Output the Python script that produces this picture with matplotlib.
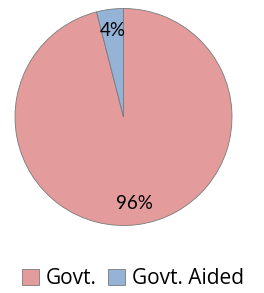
import matplotlib.pyplot as plt

labels = ["Govt.", "Govt. Aided"]
shares = [96, 4]
colors = ["#E39C9B", "#95B3D7"]

plt.rcParams['font.family'] = ['Lato', 'DejaVu Sans']

fig = plt.figure(figsize=(2.64, 2.93), dpi=100)
ax = fig.add_axes([15/264, 1 - 226/293, 217/264, 218/293])

wedges, texts, autotexts = ax.pie(
    shares, colors=colors, startangle=90, counterclock=False,
    autopct='%1.0f%%', pctdistance=0.8,
    wedgeprops=dict(edgecolor='#7a7a7a', linewidth=0.6),
    textprops=dict(fontsize=13.5, color='black'))
ax.set_xlim(-1.0, 1.0)
ax.set_ylim(-1.0, 1.0)
ax.set_aspect('equal')

fig.legend(wedges, labels, loc='center', bbox_to_anchor=(133/264, 1 - 279/293),
           ncol=2, frameon=False, prop={'family': 'Open Sans', 'size': 15},
           handlelength=0.8, handleheight=0.8,
           handletextpad=0.35, columnspacing=0.55)

fig.savefig("out.png", dpi=100)
